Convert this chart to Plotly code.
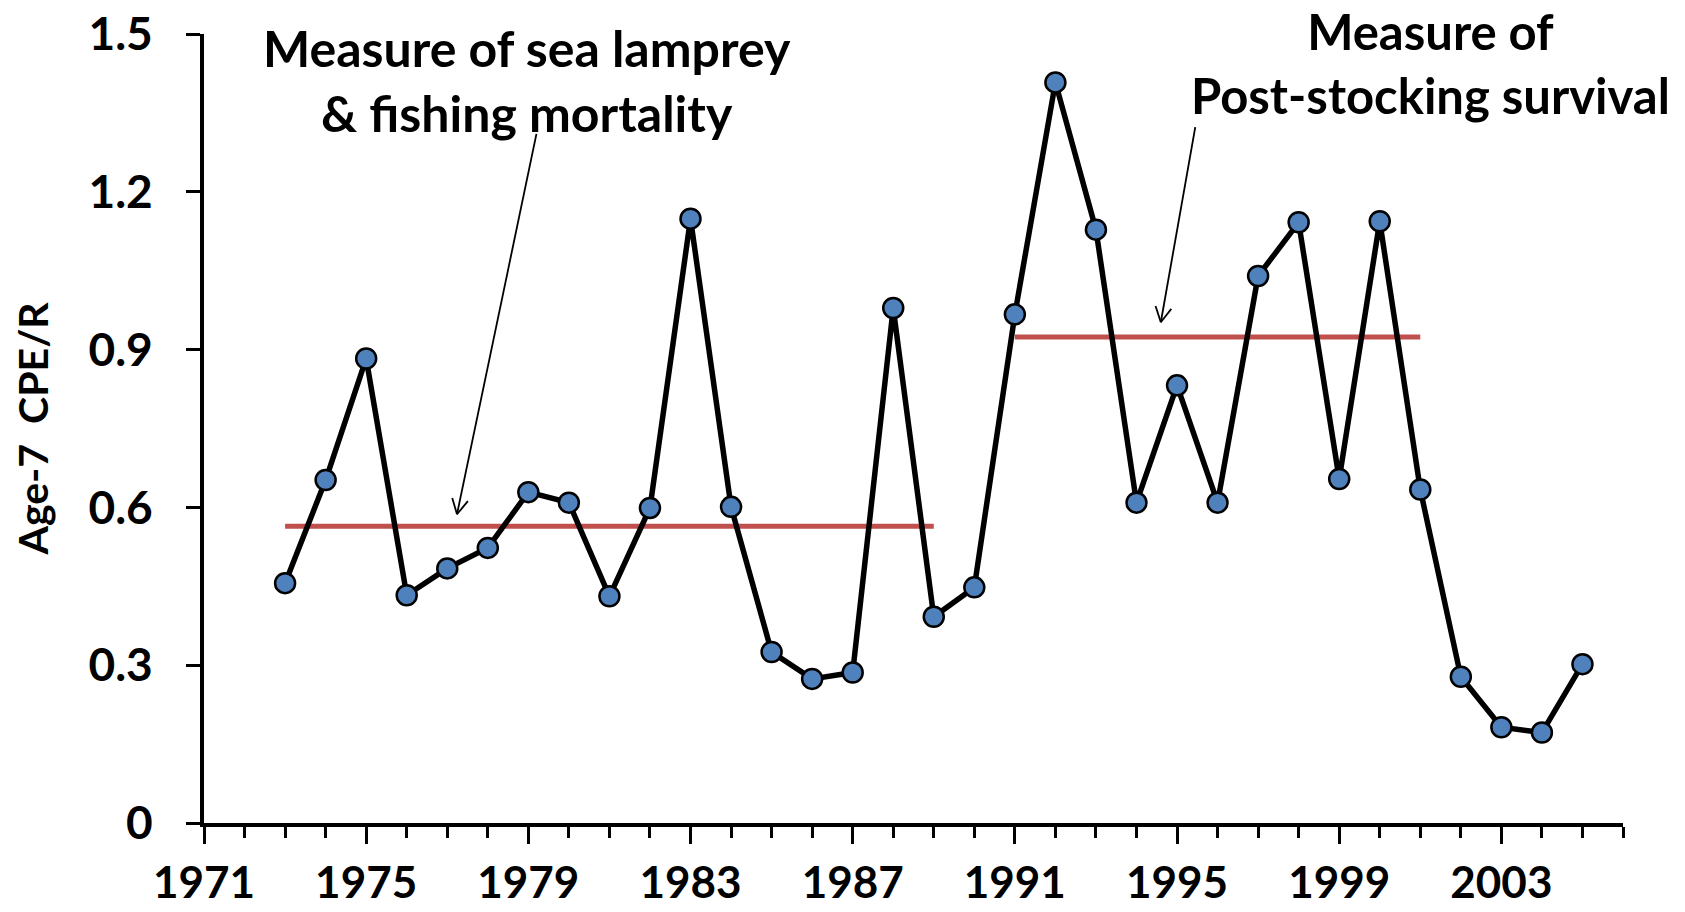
import math
import plotly.graph_objects as go

# ----------------------------------------------------
# Data
# ----------------------------------------------------
years = list(range(1973, 2006))
cpe_r = [0.456, 0.652, 0.883, 0.433, 0.484, 0.523, 0.629, 0.609, 0.431, 0.599,
         1.149, 0.601, 0.325, 0.274, 0.286, 0.979, 0.392, 0.448, 0.967, 1.408,
         1.128, 0.609, 0.832, 0.609, 1.040, 1.142, 0.654, 1.144, 0.634, 0.278,
         0.182, 0.172, 0.302]

mean_early_years = [1973, 1989]
mean_early = [0.564, 0.564]
mean_late_years = [1991, 2001]
mean_late = [0.924, 0.924]

tick_years = list(range(1971, 2006, 4))
y_ticks = [0, 0.3, 0.6, 0.9, 1.2, 1.5]
y_tick_labels = ["0", "0.3", "0.6", "0.9", "1.2", "1.5"]

X_RANGE = [1971, 2006]
Y_RANGE = [0, 1.5]
# page body has an 8px margin, so the figure is a bit smaller than the window
W, H = 1669, 896
M = dict(l=196, r=54, t=26, b=81)

bold_font = "Lato, Open Sans, sans-serif"

fig = go.Figure()

fig.add_trace(go.Scatter(
    x=mean_early_years, y=mean_early, mode="lines",
    line=dict(color="#C0504D", width=5), hoverinfo="skip",
))
fig.add_trace(go.Scatter(
    x=mean_late_years, y=mean_late, mode="lines",
    line=dict(color="#C0504D", width=5), hoverinfo="skip",
))
fig.add_trace(go.Scatter(
    x=years, y=cpe_r, mode="lines+markers",
    line=dict(color="black", width=5.5),
    marker=dict(size=20, color="#4F81BD", line=dict(color="black", width=2.5)),
))

# annotation text
fig.add_annotation(
    x=1978.97, y=1.412, xref="x", yref="y", showarrow=False,
    text="<b>Measure of sea lamprey<br>& fishing mortality</b>",
    font=dict(family=bold_font, size=50, color="black"), align="center",
)
fig.add_annotation(
    x=2001.25, y=1.445, xref="x", yref="y", showarrow=False,
    text="<b>Measure of<br>Post-stocking survival</b>",
    font=dict(family=bold_font, size=49, color="black"), align="center",
)

# arrows with open "V" heads
px_per_x = (W - M["l"] - M["r"]) / (X_RANGE[1] - X_RANGE[0])
px_per_y = (H - M["t"] - M["b"]) / (Y_RANGE[1] - Y_RANGE[0])
arrows = [((1979.2, 1.31), (1977.24, 0.587)), ((1995.45, 1.323), (1994.6, 0.952))]
head_len = 17
for (tx, ty), (hx, hy) in arrows:
    fig.add_shape(type="line", x0=tx, y0=ty, x1=hx, y1=hy,
                  line=dict(color="black", width=1.8))
    dx = (tx - hx) * px_per_x
    dy = (ty - hy) * px_per_y
    ang = math.atan2(dy, dx)
    for s in (-1, 1):
        a = ang + s * math.radians(28)
        fig.add_shape(
            type="line", x0=hx, y0=hy,
            x1=hx + head_len * math.cos(a) / px_per_x,
            y1=hy + head_len * math.sin(a) / px_per_y,
            line=dict(color="black", width=1.8),
        )

fig.update_layout(
    width=W, height=H,
    margin=M,
    paper_bgcolor="white", plot_bgcolor="white",
    showlegend=False,
)

fig.update_xaxes(
    range=X_RANGE, tickmode="array", tickvals=tick_years,
    ticktext=[str(y) for y in tick_years],
    ticks="outside", ticklen=17, tickwidth=3, tickcolor="black",
    minor=dict(dtick=1, tick0=1971, ticks="outside", ticklen=11, tickwidth=3, tickcolor="black"),
    showline=True, linewidth=4, linecolor="black", showgrid=False, zeroline=False,
    tickfont=dict(family=bold_font, size=44, color="black", weight="bold"),
    ticklabelstandoff=1, automargin=False, ticklabeloverflow="allow",
)
fig.update_yaxes(
    range=Y_RANGE, tickmode="array", tickvals=y_ticks, ticktext=y_tick_labels,
    ticks="outside", ticklen=14, tickwidth=3, tickcolor="black",
    showline=True, linewidth=4, linecolor="black", showgrid=False, zeroline=False,
    tickfont=dict(family=bold_font, size=46, color="black", weight="bold"),
    ticklabelstandoff=24, automargin=False, ticklabeloverflow="allow",
    title=dict(text="<b>Age-7  CPE/R</b>", standoff=40,
               font=dict(family=bold_font, size=41, color="black")),
)

fig.write_html("out.html")
